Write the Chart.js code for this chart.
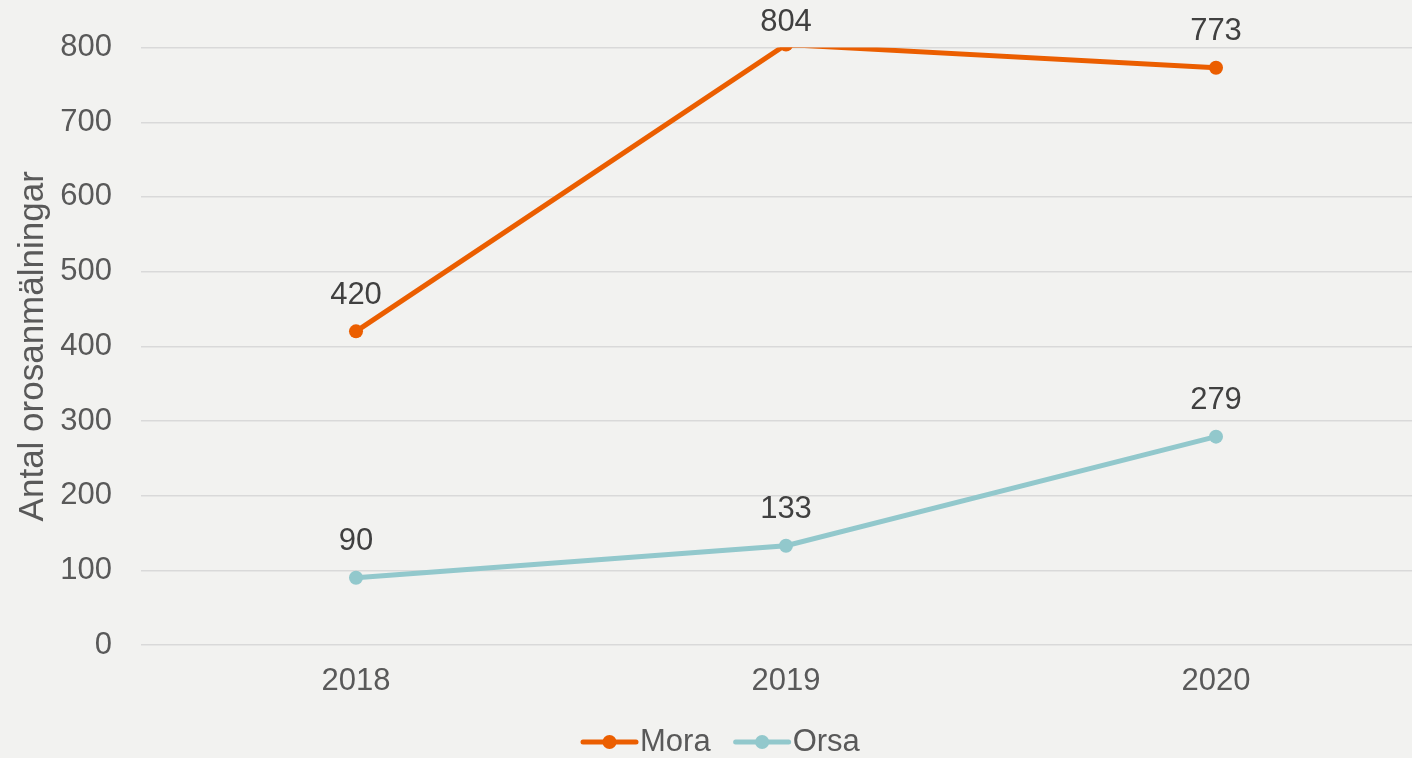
<!DOCTYPE html>
<html>
<head>
<meta charset="utf-8">
<script src="https://cdn.jsdelivr.net/npm/chart.js@4/dist/chart.umd.min.js"></script>
<style>
    html, body { margin: 0; padding: 0; background: #f2f2f0; overflow: hidden; }
    canvas { display: block; }
</style>
</head>
<body>
<canvas id="chart" width="1431" height="758"></canvas>
<script>
const years = ['2018', '2019', '2020'];
const mora = [420, 804, 773];
const orsa = [90, 133, 279];
const yTicks = [0, 100, 200, 300, 400, 500, 600, 700, 800];

const FONT = '"Liberation Sans", Arial, sans-serif';
const MORA_COLOR = '#eb5e00';
const ORSA_COLOR = '#92c8cc';

// value labels above each point, kept inside the top edge
const valueLabels = {
    id: 'valueLabels',
    afterDatasetsDraw(chart) {
        const ctx = chart.ctx;
        ctx.save();
        ctx.font = '31px ' + FONT;
        ctx.fillStyle = '#404040';
        ctx.textAlign = 'center';
        ctx.textBaseline = 'middle';
        chart.data.datasets.forEach((ds, i) => {
            chart.getDatasetMeta(i).data.forEach((pt, j) => {
                const y = Math.max(pt.y - 36, 22);
                ctx.fillText(String(ds.data[j]), pt.x, y);
            });
        });
        ctx.restore();
    }
};

// legend: short line with a dot, then the series name
const lineLegend = {
    id: 'lineLegend',
    afterDraw(chart) {
        const ctx = chart.ctx;
        ctx.save();
        ctx.font = '31px ' + FONT;
        ctx.textBaseline = 'middle';
        const y = 742;
        let x = 581;
        chart.data.datasets.forEach(ds => {
            ctx.strokeStyle = ds.borderColor;
            ctx.lineWidth = 5;
            ctx.lineCap = 'round';
            ctx.beginPath();
            ctx.moveTo(x + 2, y);
            ctx.lineTo(x + 55, y);
            ctx.stroke();
            ctx.fillStyle = ds.borderColor;
            ctx.beginPath();
            ctx.arc(x + 28.5, y, 7, 0, Math.PI * 2);
            ctx.fill();
            ctx.fillStyle = '#595959';
            ctx.textAlign = 'left';
            ctx.fillText(ds.label, x + 59, y);
            x += 59 + ctx.measureText(ds.label).width + 23;
        });
        ctx.restore();
    }
};

new Chart(document.getElementById('chart'), {
    type: 'line',
    data: {
        labels: years,
        datasets: [
            {
                label: 'Mora',
                data: mora,
                borderColor: MORA_COLOR,
                backgroundColor: MORA_COLOR,
                borderWidth: 5,
                pointRadius: 7,
                pointBorderWidth: 0,
                pointHoverRadius: 7,
            },
            {
                label: 'Orsa',
                data: orsa,
                borderColor: ORSA_COLOR,
                backgroundColor: ORSA_COLOR,
                borderWidth: 5,
                pointRadius: 7,
                pointBorderWidth: 0,
                pointHoverRadius: 7,
            }
        ]
    },
    options: {
        responsive: false,
        animation: false,
        layout: { autoPadding: false, padding: { top: 45, left: 0, right: 0, bottom: 0 } },
        scales: {
            x: {
                offset: true,
                grid: { display: false, drawTicks: false },
                border: { display: false },
                ticks: { color: '#595959', font: { family: FONT, size: 31 }, padding: 18 },
                afterFit(scale) { scale.height = 113; }
            },
            y: {
                min: 0,
                max: 800,
                afterBuildTicks(scale) { scale.ticks = yTicks.map(v => ({ value: v })); },
                grid: { color: '#d9d9d9', lineWidth: 1.5, drawTicks: false },
                border: { display: false },
                ticks: { color: '#595959', font: { family: FONT, size: 31 }, padding: 29 },
                title: {
                    display: true,
                    text: 'Antal orosanmälningar',
                    color: '#595959',
                    font: { family: FONT, size: 35, weight: 'normal' },
                    padding: { top: 12, bottom: 0 }
                },
                afterFit(scale) { scale.width = 141; }
            }
        },
        plugins: {
            legend: { display: false },
            tooltip: { enabled: false }
        }
    },
    plugins: [valueLabels, lineLegend]
});
</script>
</body>
</html>
